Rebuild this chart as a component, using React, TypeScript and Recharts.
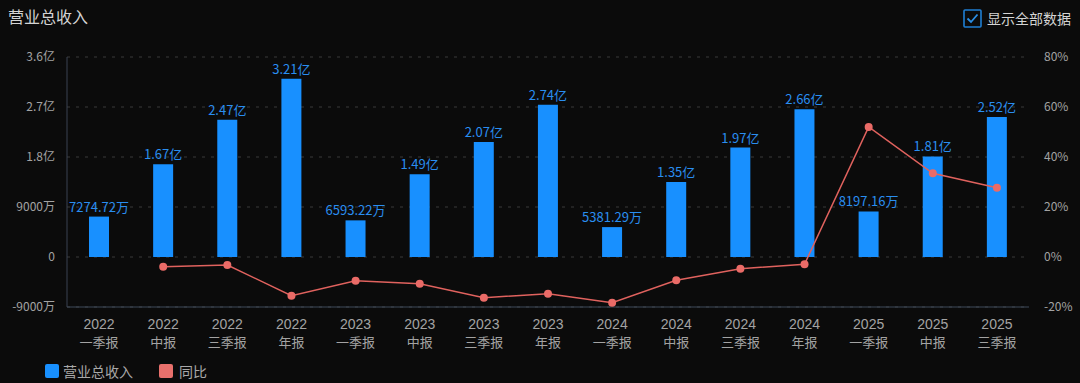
import React from 'react';
import {
  ComposedChart, Bar, Line, XAxis, YAxis, CartesianGrid, LabelList,
} from 'recharts';

const years = ['2022', '2022', '2022', '2022', '2023', '2023', '2023', '2023', '2024', '2024', '2024', '2024', '2025', '2025', '2025'];
const periods = ['一季报', '中报', '三季报', '年报', '一季报', '中报', '三季报', '年报', '一季报', '中报', '三季报', '年报', '一季报', '中报', '三季报'];
// 营业总收入, unit: 万
const revenue = [7274.72, 16700, 24700, 32100, 6593.22, 14900, 20700, 27400, 5381.29, 13500, 19700, 26600, 8197.16, 18100, 25200];
// 同比, unit: %
const yoy: (number | null)[] = [null, -3.9, -3.2, -15.5, -9.5, -10.7, -16.3, -14.7, -18.3, -9.3, -4.7, -2.9, 52.0, 33.5, 27.7];
const leftTicks = [-9000, 0, 9000, 18000, 27000, 36000];
const rightTicks = [-20, 0, 20, 40, 60, 80];

const data = years.map((y, i) => ({
  name: `${y}${periods[i]}`,
  revenue: revenue[i],
  yoy: yoy[i],
}));

const FONT = '"Noto Sans CJK SC", "Noto Sans", sans-serif';
const LATIN = '"Liberation Sans", "DejaVu Sans", sans-serif';
const BG = '#0b0b0b';
const BLUE = '#1890ff';
const RED = '#e0625e';
const AXIS_TEXT = '#a3a3a3';

const fmtWan = (v: number) => {
  if (v === 0) return '0';
  if (Math.abs(v) >= 10000) return `${+(v / 10000).toFixed(2)}亿`;
  return `${v}万`;
};
const fmtLabel = (v: any) => {
  const n = Number(v);
  if (Math.abs(n) >= 10000) return `${(n / 10000).toFixed(2)}亿`;
  return `${n.toFixed(2)}万`;
};

const XTick = (props: any) => {
  const { x, y, index } = props;
  return (
    <g>
      <text x={x} y={y + 14} textAnchor="middle" fill={AXIS_TEXT} fontSize={14} fontFamily={LATIN}>
        {years[index]}
      </text>
      <text x={x} y={y + 32} textAnchor="middle" fill={AXIS_TEXT} fontSize={13} fontFamily={FONT}>
        {periods[index]}
      </text>
    </g>
  );
};

export default function App() {
  return (
    <div style={{ position: 'absolute', left: 0, top: 0, width: 1080, height: 383, background: BG, overflow: 'hidden', fontFamily: FONT }}>
      <div style={{ position: 'absolute', left: 8, top: 5, fontSize: 16, color: '#d4d4d4', lineHeight: '22px' }}>营业总收入</div>
      <div style={{ position: 'absolute', left: 963, top: 9, display: 'flex', alignItems: 'center' }}>
        <svg width={19} height={19}>
          <rect x={1} y={1} width={17} height={17} fill="none" stroke="#1f7fd4" strokeWidth={1.6} rx={1} />
          <polyline points="4.5,9.5 8,13 14.5,5.5" fill="none" stroke="#2b8fe6" strokeWidth={1.8} />
        </svg>
        <span style={{ marginLeft: 5, fontSize: 14, color: '#d4d4d4', lineHeight: '19px' }}>显示全部数据</span>
      </div>
      <ComposedChart
        width={1080}
        height={383}
        data={data}
        margin={{ top: 57, right: 0, bottom: 36, left: 0 }}
      >
        <CartesianGrid vertical={false} stroke="#3a3a3a" strokeDasharray="3 6" yAxisId="left" />
        <XAxis
          dataKey="name"
          height={40}
          interval={0}
          tick={<XTick />}
          tickLine={false}
          axisLine={{ stroke: '#3e4b5a' }}
        />
        <YAxis
          yAxisId="left"
          width={67}
          domain={[-9000, 36000]}
          ticks={leftTicks}
          tickFormatter={fmtWan}
          tick={{ fill: AXIS_TEXT, fontSize: 12, fontFamily: FONT }}
          tickLine={false}
          tickSize={0}
          tickMargin={12}
          axisLine={{ stroke: '#3a4252' }}
          interval={0}
          allowDataOverflow
        />
        <YAxis
          yAxisId="right"
          orientation="right"
          width={51}
          domain={[-20, 80]}
          ticks={rightTicks}
          tickFormatter={(v: number) => `${v}%`}
          tick={{ fill: AXIS_TEXT, fontSize: 12, fontFamily: FONT, textAnchor: 'start' }}
          tickLine={false}
          tickSize={0}
          tickMargin={15}
          axisLine={false}
          interval={0}
          allowDataOverflow
        />
        <Bar yAxisId="left" dataKey="revenue" fill={BLUE} barSize={20} isAnimationActive={false}>
          <LabelList
            dataKey="revenue"
            position="top"
            offset={5}
            formatter={fmtLabel}
            fill="#2a8ef0"
            fontSize={13}
            fontFamily={FONT}
          />
        </Bar>
        <Line
          yAxisId="right"
          dataKey="yoy"
          stroke={RED}
          strokeWidth={1.5}
          dot={{ r: 4, fill: '#ea6b67', stroke: 'none' }}
          activeDot={false}
          isAnimationActive={false}
          connectNulls={false}
        />
      </ComposedChart>
      <div style={{ position: 'absolute', left: 45, top: 361, display: 'flex', alignItems: 'center', fontSize: 14, color: '#a8a8a8' }}>
        <span style={{ display: 'inline-block', width: 14, height: 14, background: BLUE, borderRadius: 2 }} />
        <span style={{ marginLeft: 4 }}>营业总收入</span>
        <span style={{ display: 'inline-block', width: 14, height: 14, background: '#e8706c', borderRadius: 2, marginLeft: 26 }} />
        <span style={{ marginLeft: 6 }}>同比</span>
      </div>
    </div>
  );
}
